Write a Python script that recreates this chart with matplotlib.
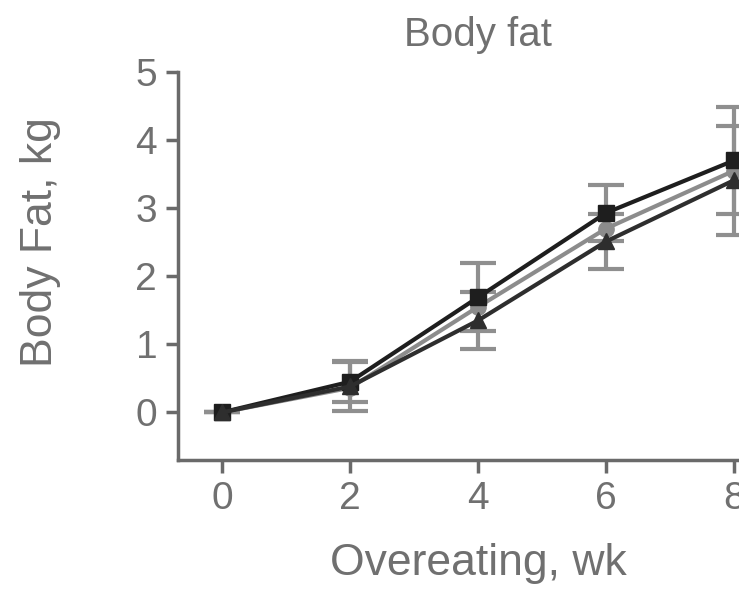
import numpy as np
import matplotlib.pyplot as plt

weeks = [0, 2, 4, 6, 8]

# three groups (square, circle, triangle)
fat_sq = [0.0, 0.45, 1.69, 2.93, 3.70]
err_sq = [0.0, 0.30, 0.50, 0.41, 0.78]
fat_ci = [0.0, 0.36, 1.55, 2.70, 3.55]
fat_tr = [0.0, 0.38, 1.35, 2.51, 3.41]
err_tr = [0.0, 0.36, 0.42, 0.41, 0.80]

plt.rcParams["font.family"] = ["Liberation Sans", "DejaVu Sans"]

txt = "#707070"
spine = "#6a6a6a"

fig = plt.figure(figsize=(7.39, 5.9), dpi=100)
ax = fig.add_axes([178 / 739, 1 - 460 / 590, 588 / 739, 388 / 590])

ax.errorbar(weeks, fat_sq, yerr=err_sq, fmt="none", ecolor="#8f8f8f",
            elinewidth=3, capsize=13, capthick=3, zorder=1)
ax.errorbar(weeks, fat_tr, yerr=err_tr, fmt="none", ecolor="#8f8f8f",
            elinewidth=3, capsize=13, capthick=3, zorder=1)

ax.plot(weeks, fat_ci, color="#8c8c8c", lw=3, marker="o", ms=11, zorder=2)
ax.plot(weeks, fat_sq, color="#1e1e1e", lw=3, marker="s", ms=12, zorder=3)
ax.plot(weeks, fat_tr, color="#2e2e2e", lw=3, marker="^", ms=12, zorder=4)

ax.set_xlim(-0.69, 8.5)
ax.set_ylim(-0.7, 5)
ax.set_xticks(weeks)
ax.set_yticks([0, 1, 2, 3, 4, 5])

for s in ["top", "right"]:
    ax.spines[s].set_visible(False)
for s in ["left", "bottom"]:
    ax.spines[s].set_color(spine)
    ax.spines[s].set_linewidth(2.5)

ax.tick_params(axis="both", direction="out", length=9, width=2.5, color=spine,
               labelsize=28, labelcolor=txt, pad=6)

fig.text(478 / 739, 1 - 35 / 590, "Body fat", ha="center", va="center",
         fontsize=29, color=txt)
fig.text(41 / 739, 1 - 242 / 590, "Body Fat, kg", ha="center", va="center",
         rotation=90, fontsize=32, color=txt)
fig.text(478 / 739, 1 - 563 / 590, "Overeating, wk", ha="center", va="center",
         fontsize=32, color=txt)

fig.savefig("out.png", dpi=100)
